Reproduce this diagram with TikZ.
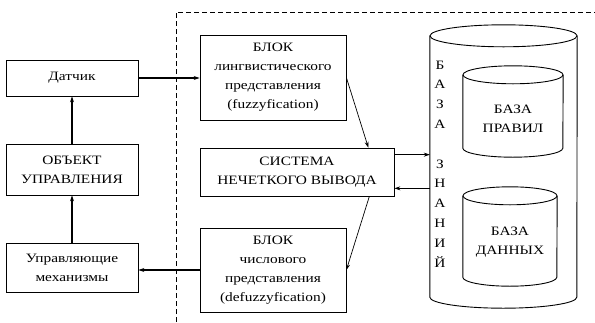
\documentclass[tikz,border=0pt]{standalone}
\usepackage{fontspec}
\setmainfont{Liberation Serif}[FakeStretch=1.2]
\usepackage{tikz}
\usetikzlibrary{positioning}
\usetikzlibrary{arrows.meta}

\begin{document}
\begin{tikzpicture}[x=1pt,y=-1pt
  ,font=\fontsize{12.8}{19}\selectfont
  ,block/.style={draw,line width=0.7pt,align=center,inner sep=0pt}
  ,body/.style={align=center,inner sep=0pt}
  ,cyl/.style={line width=0.9pt}
  ,link/.style={line width=1.1pt,-{Stealth[length=6pt,width=4pt]}}
  ,thin link/.style={line width=0.7pt,-{Stealth[length=6pt,width=4pt]}}]
\useasboundingbox (0,0) rectangle (595,322);
% left column
\node (sensor) [block,minimum width=132pt,minimum height=36pt] at (72,78) {Датчик};
\node (plant) [block,minimum width=132pt,minimum height=51pt] at (72,169.5)
  {ОБЪЕКТ\\УПРАВЛЕНИЯ};
\node (act) [block,minimum width=132pt,minimum height=49pt] at (72,268)
  {Управляющие\\механизмы};
% fuzzy controller
\draw[dashed,dash pattern=on 5pt off 3pt,line width=0.5pt] (176,322) -- (176,12) -- (595,12);
\node (fuzz) [block,minimum width=146pt,minimum height=85pt] at (273,77.5)
  {БЛОК\\лингвистического\\представления\\(fuzzyfication)};
\node (infer) [block,minimum width=194pt,minimum height=48pt] at (297,172)
  {СИСТЕМА\\НЕЧЕТКОГО ВЫВОДА};
\node (defuzz) [block,minimum width=146pt,minimum height=84pt] at (273,270)
  {БЛОК\\числового\\представления\\(defuzzyfication)};
% knowledge base
\node (kb) [body,minimum width=147pt,minimum height=261pt] at (503.5,166.5) {};
\draw[cyl] (kb.north) ellipse [x radius=73.5pt,y radius=11pt];
\draw[cyl] (kb.north west) -- (kb.south west)
  arc [start angle=180,end angle=360,x radius=73.5pt,y radius=11pt] -- (kb.north east);
\node (rules) [body,minimum width=100pt,minimum height=73pt] at (513,111.5) {};
\node (rulestext) [body] at ([yshift=-7pt]rules.center) {БАЗА\\ПРАВИЛ};
\draw[cyl] (rules.north) ellipse [x radius=50pt,y radius=9pt];
\draw[cyl] (rules.north west) -- (rules.south west)
  arc [start angle=180,end angle=360,x radius=50pt,y radius=9pt] -- (rules.north east);
\node (data) [body,minimum width=94pt,minimum height=81pt] at (510,236.5) {};
\node (datatext) [body] at ([yshift=-6pt]data.center) {БАЗА\\ДАННЫХ};
\draw[cyl] (data.north) ellipse [x radius=47pt,y radius=9pt];
\draw[cyl] (data.north west) -- (data.south west)
  arc [start angle=180,end angle=360,x radius=47pt,y radius=9pt] -- (data.north east);
\node (kbname) [align=center,font=\fontsize{12.8}{19.8}\selectfont] at (440,164)
  {Б\\А\\З\\А\\[19.8pt]З\\Н\\А\\Н\\И\\Й};
\coordinate (toKb) at ([yshift=-7pt]infer.north east);
\coordinate (fromKb) at ([yshift=8pt]infer.south east);
\path[link]
  (plant) edge (sensor)
  (act) edge (plant)
  (sensor.east) edge (sensor.east -| fuzz.west)
  (defuzz.west) edge (defuzz.west -| act.east)
  ;
\path[thin link]
  (fuzz.east) edge ([xshift=-26pt]infer.north east)
  ([xshift=-25pt]infer.south east) edge (defuzz.east)
  (toKb) edge (toKb -| kb.west)
  (fromKb -| kb.west) edge (fromKb)
  ;
\end{tikzpicture}
\end{document}
